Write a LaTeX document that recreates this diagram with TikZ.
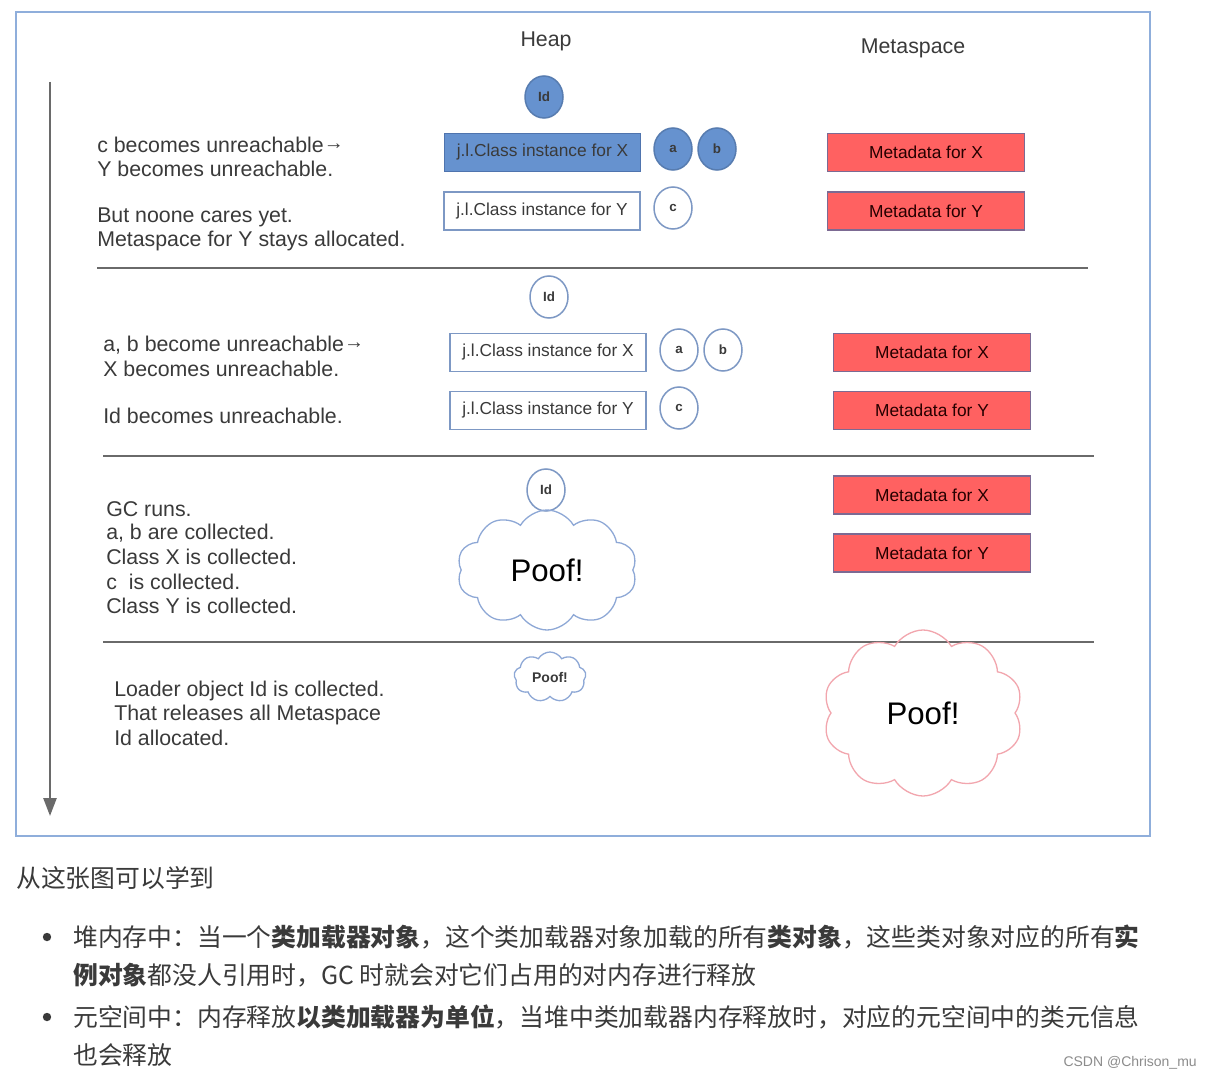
\documentclass[tikz,border=0pt]{standalone}
\usepackage{fontspec}
\setmainfont{Liberation Sans}
\newfontfamily\cjk{Noto Sans CJK SC}
\usetikzlibrary{shapes.geometric,shapes.symbols,arrows.meta}
\newlength\pu \setlength\pu{0.75pt}
\definecolor{frameblue}{HTML}{8FAEDB}
\definecolor{fillblue}{HTML}{6692CF}
\definecolor{edgeblue}{HTML}{4F74AE}
\definecolor{lineblue}{HTML}{7D98C4}
\definecolor{metared}{HTML}{FF6161}
\definecolor{metaedge}{HTML}{7C6A93}
\definecolor{txt}{HTML}{3A3A3A}
\definecolor{sepgray}{HTML}{6A6A6A}
\definecolor{cloudblue}{HTML}{8EA8D6}
\definecolor{cloudpink}{HTML}{F2A6AE}
\newcommand{\smarrow}{\raisebox{2.2pt}{\fontsize{15}{16}\selectfont →}}
\tikzset{
  lbl/.style={anchor=west, inner sep=0pt, text=txt, font=\fontsize{16}{19}\selectfont},
  title/.style={inner sep=0pt, text=txt, font=\fontsize{16}{19}\selectfont},
  clsbox/.style={draw=lineblue, line width=1.5\pu, minimum width=196\pu, minimum height=38\pu, inner sep=0pt, text=txt, font=\fontsize{13}{15}\selectfont},
  clsfill/.style={clsbox, fill=fillblue, draw=edgeblue},
  metabox/.style={draw=metaedge, line width=1.5\pu, fill=metared, minimum width=197\pu, minimum height=38\pu, inner sep=0pt, text=black!85!red, font=\fontsize{13}{15}\selectfont},
  obj/.style={ellipse, draw=lineblue, line width=1.5\pu, fill=white, minimum width=38\pu, minimum height=42\pu, inner sep=0pt, text=txt, font=\bfseries\fontsize{10}{12}\selectfont},
  objfill/.style={obj, fill=fillblue, draw=fillblue!85!black},
  poof/.style={cloud, cloud puffs=10, cloud puff arc=120, draw=cloudblue, line width=1.3\pu, inner sep=0pt, text=black},
  seprule/.style={draw=sepgray, line width=2\pu},
  cn/.style={anchor=west, inner sep=0pt, text=txt, font=\cjk\fontsize{18.6}{22}\selectfont},
}
\begin{document}
\begin{tikzpicture}[x=0.75pt,y=-0.75pt]
\useasboundingbox (0,0) rectangle (1212,1080);
\fill[white] (0,0) rectangle (1212,1080);
% frame
\draw[frameblue, line width=1.5\pu] (16,12) rectangle (1150,836);
% time arrow
\coordinate (tA) at (50,82);
\coordinate (tB) at (50,816);
\draw[sepgray, line width=1.9pt, -{Triangle[length=13.5pt,width=9.75pt]}] (tA) -- (tB);
% titles
\node[title] (heap) at (546,41) {Heap};
\node[title] (meta) at (913,48) {Metaspace};

% ---------- section 1
\node[objfill] (id1) at (544,97) {Id};
\node[clsfill] (cx1) at (542.5,152.5) {j.l.Class instance for X};
\node[objfill] (a1) at (673,149) {a};
\node[objfill] (b1) at (717,149) {b};
\node[clsbox] (cy1) at (542,211) {j.l.Class instance for Y};
\node[obj] (c1) at (673,208) {c};
\node[metabox] (mx1) at (926,152.5) {Metadata for X};
\node[metabox] (my1) at (926,211) {Metadata for Y};
\node[lbl] (t11) at (97,145) {c becomes unreachable\smarrow};
\node[lbl] (t12) at (97,169) {Y becomes unreachable.};
\node[lbl] (t13) at (97,217) {But noone cares yet.};
\node[lbl] (t14) at (97,241) {Metaspace for Y stays allocated.};
\draw[seprule] (97,268) -- (1088,268);

% ---------- section 2
\node[obj] (id2) at (549,297) {Id};
\node[clsbox] (cx2) at (548,352.5) {j.l.Class instance for X};
\node[obj] (a2) at (679,350) {a};
\node[obj] (b2) at (723,350) {b};
\node[clsbox] (cy2) at (548,410.5) {j.l.Class instance for Y};
\node[obj] (c2) at (679,408) {c};
\node[metabox] (mx2) at (932,352.5) {Metadata for X};
\node[metabox] (my2) at (932,410.5) {Metadata for Y};
\node[lbl] (t21) at (103,345) {a, b become unreachable\smarrow};
\node[lbl] (t22) at (103,369) {X becomes unreachable.};
\node[lbl] (t23) at (103,416) {Id becomes unreachable.};
\draw[seprule] (103,456) -- (1094,456);

% ---------- section 3
\node[obj] (id3) at (546,490) {Id};
\node[poof, minimum width=180\pu, minimum height=120\pu, aspect=1.5, font=\fontsize{23.4}{28}\selectfont] (p3) at (547,570) {Poof!};
\node[metabox] (mx3) at (932,495) {Metadata for X};
\node[metabox] (my3) at (932,553) {Metadata for Y};
\node[lbl] (t31) at (106,509) {GC runs.};
\node[lbl] (t32) at (106,533) {a, b are collected.};
\node[lbl] (t33) at (106,557) {Class X is collected.};
\node[lbl] (t34) at (106,582) {c\ \ is collected.};
\node[lbl] (t35) at (106,606) {Class Y is collected.};
\draw[seprule] (103,642) -- (1094,642);

% ---------- section 4
\node[poof, cloud puffs=9, minimum width=72\pu, minimum height=50\pu, aspect=1.45, text=txt, font=\bfseries\fontsize{10.5}{12}\selectfont] (p4) at (550,677) {Poof!};
\node[poof, draw=cloudpink, minimum width=200\pu, minimum height=166\pu, aspect=1.2, font=\fontsize{23.4}{28}\selectfont] (p5) at (923,713) {Poof!};
\node[lbl] (t41) at (114,691) {Loader object Id is collected.};
\node[lbl] (t42) at (114,715) {That releases all Metaspace};
\node[lbl] (t43) at (114,738) {Id allocated.};

% ---------- text below
\node[cn] (h) at (16,878) {从这张图可以学到};
\fill[txt] (47,937) circle (4.2\pu);
\node[cn] (l1) at (73,937) {堆内存中：当一个\textbf{类加载器对象}，这个类加载器对象加载的所有\textbf{类对象}，这些类对象对应的所有\textbf{实}};
\node[cn] (l2) at (73,975) {\textbf{例对象}都没人引用时，GC 时就会对它们占用的对内存进行释放};
\fill[txt] (47,1017) circle (4.2\pu);
\node[cn] (l3) at (73,1017) {元空间中：内存释放\textbf{以类加载器为单位}，当堆中类加载器内存释放时，对应的元空间中的类元信息};
\node[cn] (l4) at (73,1055) {也会释放};
\node[anchor=east, inner sep=0pt, text=black!45, font=\fontsize{10.5}{12}\selectfont] (wm) at (1197,1063) {CSDN @Chrison\_mu};
\end{tikzpicture}
\end{document}
